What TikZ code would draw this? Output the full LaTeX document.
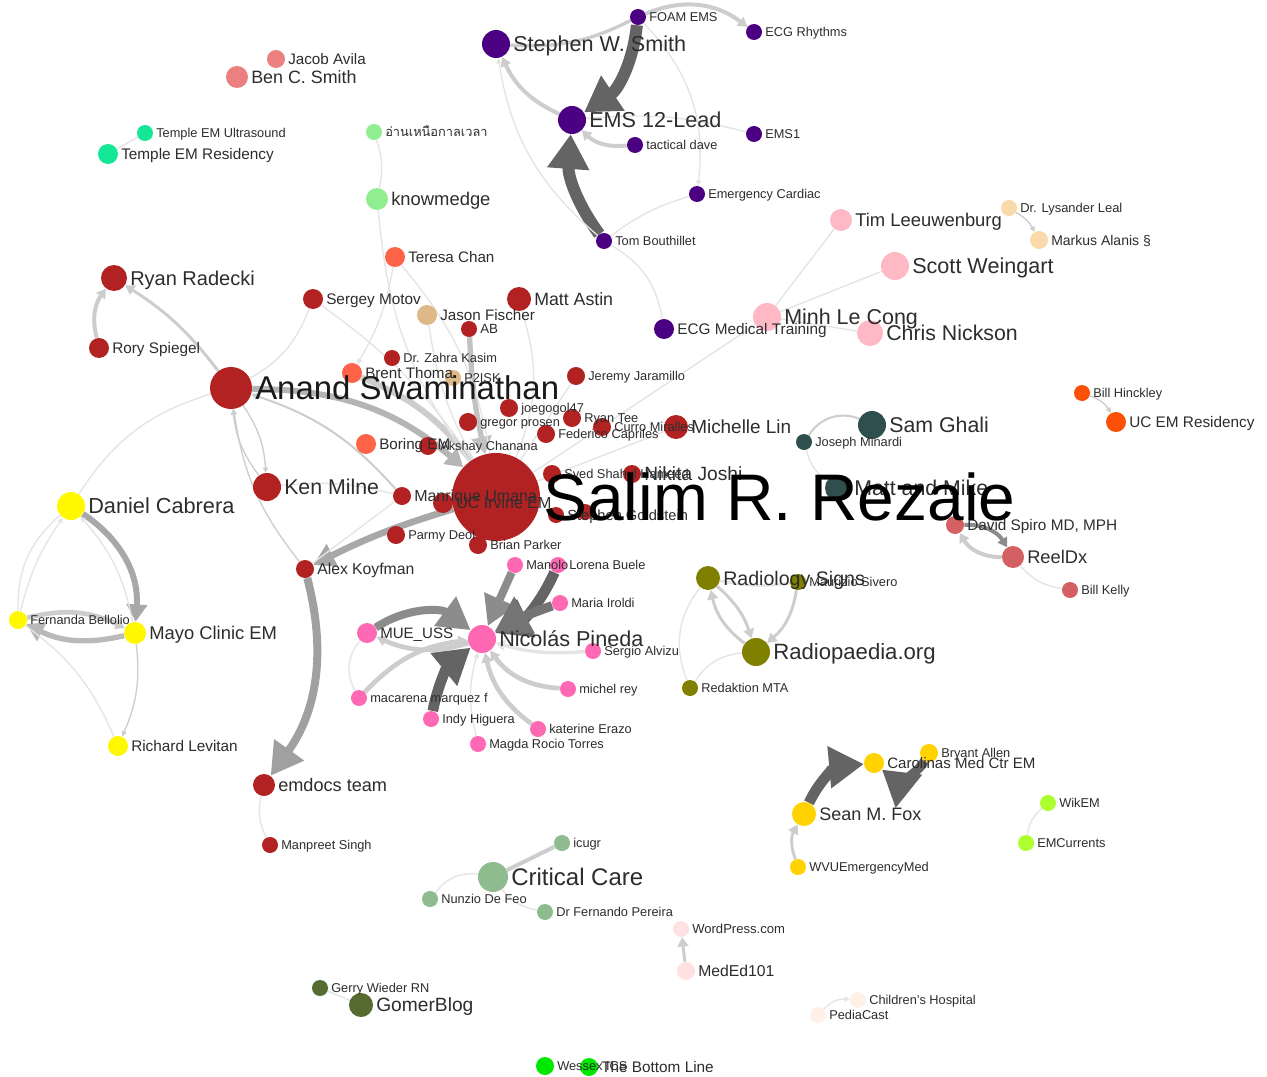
\documentclass[tikz,border=0pt]{standalone}
\usepackage{fontspec}
\setmainfont{Liberation Sans}
\newfontfamily\thaifont[Script=Thai]{Loma}
\usetikzlibrary{arrows.meta}
\pgfdeclarelayer{bg}\pgfdeclarelayer{edges}\pgfdeclarelayer{labels}
\pgfsetlayers{bg,edges,main,labels}
\definecolor{cpur}{RGB}{75,0,130}
\definecolor{csal}{RGB}{236,128,128}
\definecolor{ctem}{RGB}{20,232,150}
\definecolor{clgr}{RGB}{144,238,144}
\definecolor{cpnk}{RGB}{255,185,196}
\definecolor{cnav}{RGB}{250,218,170}
\definecolor{corr}{RGB}{252,80,8}
\definecolor{cslt}{RGB}{47,79,79}
\definecolor{cird}{RGB}{212,96,100}
\definecolor{colv}{RGB}{128,128,0}
\definecolor{chot}{RGB}{255,105,180}
\definecolor{cyel}{RGB}{255,248,0}
\definecolor{cgld}{RGB}{255,210,0}
\definecolor{cgy}{RGB}{173,255,47}
\definecolor{cdsg}{RGB}{143,188,143}
\definecolor{cmis}{RGB}{255,225,225}
\definecolor{csea}{RGB}{255,240,232}
\definecolor{cdog}{RGB}{85,107,47}
\definecolor{clim}{RGB}{0,232,0}
\definecolor{cred}{RGB}{178,34,34}
\definecolor{ctom}{RGB}{255,99,71}
\definecolor{cbur}{RGB}{222,184,135}
\definecolor{labc}{RGB}{45,45,45}
\definecolor{ea}{RGB}{228,228,228}
\definecolor{eb}{RGB}{205,205,205}
\definecolor{ec}{RGB}{168,168,168}
\definecolor{ee}{RGB}{140,140,140}
\definecolor{ed}{RGB}{100,100,100}
\tikzset{
  gnd/.style={circle,inner sep=0pt,draw=none},
  glab/.style={anchor=base west,inner sep=0pt,text=labc},
  ethin/.style={draw=ea,line width=1pt},
  ethinA/.style={draw=ea,line width=1pt,-{Triangle[width=4pt,length=4pt]}},
  elight/.style={draw=eb,line width=2.2pt,-{Triangle[width=8pt,length=7pt]}},
  emedium/.style={draw=ec,line width=4.5pt,-{Triangle[width=15pt,length=13pt]}},
  edark/.style={draw=ed,line width=9pt,-{Triangle[width=30pt,length=26pt]}},
}
\newcommand\gn[7]{%
  \node[gnd,fill=#5,minimum size={1.5pt*#4}] (#1) at (#2,#3) {};
  \begin{pgfonlayer}{labels}
  \node[glab,font=\fontsize{#6pt}{#6pt}\selectfont] (#1-l) at ({#2+#4+3},{#3+0.48*#6}) {#7};
  \end{pgfonlayer}}
\begin{document}
\begin{tikzpicture}[x=0.75pt,y=-0.75pt]
\begin{pgfonlayer}{bg}
\fill[white] (0,0) rectangle (1267,1077);
\end{pgfonlayer}
\useasboundingbox (0,0) rectangle (1267,1077);
% purple
\gn{steph}{496}{44}{14}{cpur}{16.2}{Stephen W. Smith}
\gn{foam}{638}{17}{8}{cpur}{9.6}{FOAM EMS}
\gn{ecgr}{754}{32}{8}{cpur}{9.6}{ECG Rhythms}
\gn{ems12}{572}{120}{14}{cpur}{16.2}{EMS 12-Lead}
\gn{ems1}{754}{134}{8}{cpur}{9.6}{EMS1}
\gn{tdave}{635}{145}{8}{cpur}{9.6}{tactical dave}
\gn{ecard}{697}{194}{8}{cpur}{9.6}{Emergency Cardiac}
\gn{tomb}{604}{241}{8}{cpur}{9.6}{Tom Bouthillet}
\gn{ecgmt}{664}{329}{10}{cpur}{11.5}{ECG Medical Training}
% top left
\gn{jacob}{276}{59}{9}{csal}{11.4}{Jacob Avila}
\gn{ben}{237}{77}{11}{csal}{13.4}{Ben C. Smith}
\gn{tus}{145}{133}{8}{ctem}{9.6}{Temple EM Ultrasound}
\gn{tres}{108}{154}{10}{ctem}{11.5}{Temple EM Residency}
\gn{thai}{374}{132}{8}{clgr}{9.6}{\thaifont อ่านเหนือกาลเวลา}
\gn{know}{377}{199}{11}{clgr}{13.8}{knowmedge}
% pink
\gn{tim}{841}{220}{11}{cpnk}{13.8}{Tim Leeuwenburg}
\gn{scott}{895}{266}{14}{cpnk}{16.2}{Scott Weingart}
\gn{minh}{767}{317}{14}{cpnk}{16.1}{Minh Le Cong}
\gn{chris}{870}{333}{13}{cpnk}{16}{Chris Nickson}
\gn{lys}{1009}{208}{8}{cnav}{9.7}{Dr. Lysander Leal}
\gn{markus}{1039}{240}{9}{cnav}{10.5}{Markus Alanis §}
\gn{hinck}{1082}{393}{8}{corr}{9.6}{Bill Hinckley}
\gn{ucem}{1116}{422}{10}{corr}{11.5}{UC EM Residency}
% slate
\gn{ghali}{872}{425}{14}{cslt}{16}{Sam Ghali}
\gn{minardi}{804}{442}{8}{cslt}{9.6}{Joseph Minardi}
\gn{mattmike}{838}{488}{13}{cslt}{16}{Matt and Mike}
% indian red
\gn{spiro}{955}{525}{9}{cird}{11.5}{David Spiro MD, MPH}
\gn{reeldx}{1013}{557}{11}{cird}{13.7}{ReelDx}
\gn{kelly}{1070}{590}{8}{cird}{9.6}{Bill Kelly}
% olive
\gn{radsig}{708}{578}{12}{colv}{14.7}{Radiology Signs}
\gn{sivero}{798}{582}{8}{colv}{9.6}{Maurizio Sivero}
\gn{radio}{756}{652}{14}{colv}{16.6}{Radiopaedia.org}
\gn{redak}{690}{688}{8}{colv}{9.6}{Redaktion MTA}
% hot pink
\gn{nicolas}{482}{639}{14}{chot}{16.2}{Nicolás Pineda}
\gn{mue}{367}{633}{10}{chot}{11.3}{MUE\_USS}
\gn{manolo}{515}{565}{8}{chot}{9.6}{Manolo}
\gn{lorena}{558}{565}{8}{chot}{9.6}{Lorena Buele}
\gn{maria}{560}{603}{8}{chot}{9.6}{Maria Iroldi}
\gn{sergio}{593}{651}{8}{chot}{9.6}{Sergio Alvizu}
\gn{michel}{568}{689}{8}{chot}{9.6}{michel rey}
\gn{katerine}{538}{729}{8}{chot}{9.6}{katerine Erazo}
\gn{magda}{478}{744}{8}{chot}{9.6}{Magda Rocio Torres}
\gn{indy}{431}{719}{8}{chot}{9.6}{Indy Higuera}
\gn{macarena}{359}{698}{8}{chot}{9.6}{macarena marquez f}
% yellow
\gn{daniel}{71}{506}{14}{cyel}{16.3}{Daniel Cabrera}
\gn{fern}{18}{620}{9}{cyel}{9.6}{Fernanda Bellolio}
\gn{mayo}{135}{633}{11}{cyel}{13.8}{Mayo Clinic EM}
\gn{rich}{118}{746}{10}{cyel}{11.5}{Richard Levitan}
% gold
\gn{fox}{804}{814}{12}{cgld}{13.5}{Sean M. Fox}
\gn{carol}{874}{763}{10}{cgld}{11.3}{Carolinas Med Ctr EM}
\gn{bryant}{929}{753}{9}{cgld}{9.6}{Bryant Allen}
\gn{wvu}{798}{867}{8}{cgld}{9.6}{WVUEmergencyMed}
% green yellow
\gn{wikem}{1048}{803}{8}{cgy}{9.6}{WikEM}
\gn{emcur}{1026}{843}{8}{cgy}{9.6}{EMCurrents}
% dark sea green
\gn{ccare}{493}{877}{15}{cdsg}{18}{Critical Care}
\gn{icugr}{562}{843}{8}{cdsg}{9.6}{icugr}
\gn{nunzio}{430}{899}{8}{cdsg}{9.6}{Nunzio De Feo}
\gn{pereira}{545}{912}{8}{cdsg}{9.6}{Dr Fernando Pereira}
% misty
\gn{wp}{681}{929}{8}{cmis}{9.8}{WordPress.com}
\gn{meded}{686}{971}{9}{cmis}{11.8}{MedEd101}
\gn{child}{858}{1000}{8}{csea}{9.6}{Children’s Hospital}
\gn{pedia}{818}{1015}{8}{csea}{9.6}{PediaCast}
% dark olive
\gn{gerry}{320}{988}{8}{cdog}{9.6}{Gerry Wieder RN}
\gn{gomer}{361}{1005}{12}{cdog}{14.4}{GomerBlog}
% lime
\gn{wessex}{545}{1066}{9}{clim}{9.6}{Wessex ICS}
\gn{bottom}{589}{1067}{9}{clim}{11.5}{The Bottom Line}
% red
\gn{anand}{231}{388}{21}{cred}{24.7}{\color[RGB]{25,25,25}Anand Swaminathan}
\gn{ryan}{114}{278}{13}{cred}{15}{Ryan Radecki}
\gn{rory}{99}{348}{10}{cred}{11.5}{Rory Spiegel}
\gn{sergey}{313}{299}{10}{cred}{11.5}{Sergey Motov}
\gn{teresa}{395}{257}{10}{ctom}{11.4}{Teresa Chan}
\gn{jason}{427}{315}{10}{cbur}{11.4}{Jason Fischer}
\gn{matt}{519}{299}{12}{cred}{13.3}{Matt Astin}
\gn{ab}{469}{329}{8}{cred}{10}{AB}
\gn{zahra}{392}{358}{8}{cred}{9.6}{Dr. Zahra Kasim}
\gn{brent}{352}{373}{10}{ctom}{11.4}{Brent Thoma}
\gn{p2isk}{453}{378}{8}{cbur}{9.6}{P2ISK}
\gn{jeremy}{576}{376}{9}{cred}{9.6}{Jeremy Jaramillo}
\gn{joe}{509}{408}{9}{cred}{9.6}{joegogol47}
\gn{gregor}{468}{422}{9}{cred}{9.6}{gregor prosen}
\gn{ryantee}{572}{418}{9}{cred}{9.6}{Ryan Tee}
\gn{federico}{546}{434}{9}{cred}{9.6}{Federico Capriles}
\gn{curro}{602}{427}{9}{cred}{9.6}{Curro Miralles}
\gn{michelle}{676}{427}{12}{cred}{14.2}{Michelle Lin}
\gn{boring}{366}{444}{10}{ctom}{11.4}{Boring EM}
\gn{akshay}{428}{446}{9}{cred}{9.6}{Akshay Chanana}
\gn{syed}{552}{474}{9}{cred}{9.6}{Syed Shahul Hameed}
\gn{nikita}{632}{474}{9}{cred}{14.4}{Nikita Joshi}
\gn{ken}{267}{487}{14}{cred}{16}{Ken Milne}
\gn{manrique}{402}{496}{9}{cred}{12}{Manrique Umana}
\gn{ucirvine}{443}{503}{10}{cred}{12}{UC Irvine EM}
\gn{parmy}{396}{535}{9}{cred}{9.6}{Parmy Deol}
\gn{brian}{478}{545}{9}{cred}{9.6}{Brian Parker}
\gn{alex}{305}{569}{9}{cred}{11.8}{Alex Koyfman}
\gn{emdocs}{264}{785}{11}{cred}{13.6}{emdocs team}
\gn{manpreet}{270}{845}{8}{cred}{9.6}{Manpreet Singh}
\gn{steg}{556}{515}{8}{cred}{11}{Stephen Goldstein}
\node[gnd,fill=cred,minimum size=12pt] (hid) at (585,512) {};
\gn{salim}{496}{497}{44}{cred}{49.4}{\color{black}Salim R. Rezaie}

\begin{pgfonlayer}{edges}
% purple
\draw[edark] (foam) to[bend left=25] (ems12);
\draw[edark] (tomb) to[bend left=20] (ems12);
\draw[elight,line width=3pt] (foam) to[bend left=30] (ecgr);
\draw[elight,line width=3pt] (ems12) to[bend left=20] (steph);
\draw[elight,line width=3pt] (tdave) to[bend left=25] (ems12);
\draw[draw=eb,line width=2.5pt] (steph) to[bend right=15] (foam);
\draw[ethinA] (tomb) to[bend left=20] (steph);
\draw[ethinA] (foam) to[bend left=25] (ecard);
\draw[ethin] (ems12) to[bend left=10] (ems1);
\draw[ethin] (tomb) to[bend left=10] (ecard);
\draw[ethin] (tomb) to[bend left=25] (ecgmt);
% pink
\draw[ethin] (minh) -- (tim);
\draw[ethin] (minh) -- (scott);
\draw[ethin] (minh) -- (chris);
\draw[ethin] (minh) -- (salim);
\draw[ethinA,draw=eb] (lys) to[bend left=15] (markus);
\draw[ethinA,draw=eb] (hinck) to[bend left=20] (ucem);
% slate
\draw[draw=eb,line width=1.5pt] (ghali) to[bend right=40] (minardi);
\draw[ethin] (minardi) to[bend right=20] (mattmike);
% indian red
\draw[elight,draw=ee,line width=3pt] (spiro) to[bend left=30] (reeldx);
\draw[elight,line width=3pt] (reeldx) to[bend left=30] (spiro);
\draw[ethin] (reeldx) to[bend right=20] (kelly);
% olive
\draw[elight] (radsig) to[bend left=15] (radio);
\draw[elight] (radio) to[bend left=20] (radsig);
\draw[elight] (sivero) to[bend left=20] (radio);
\draw[draw=ea,line width=2pt] (radsig) to[bend right=10] (sivero);
\draw[ethin] (redak) to[bend left=25] (radio);
\draw[ethin] (redak) to[bend left=30] (radsig);
% hot pink
\draw[edark,draw=ee,line width=6pt,-{Triangle[width=24pt,length=22pt]}] (manolo) -- (nicolas);
\draw[edark,line width=8pt] (lorena) to[bend left=20] (nicolas);
\draw[edark,draw=ed!90!white,line width=7pt] (maria) to[bend right=5] (nicolas);
\draw[edark,draw=ee,line width=6pt,-{Triangle[width=26pt,length=24pt]}] (mue) to[bend left=35] (nicolas);
\draw[elight,line width=3.5pt] (nicolas) to[bend left=20] (mue);
\draw[edark,line width=8pt] (indy) to[bend left=20] (nicolas);
\draw[elight,line width=3.5pt] (macarena) to[bend left=20] (nicolas);
\draw[ethin] (macarena) to[bend left=35] (mue);
\draw[elight,line width=3.5pt] (michel) to[bend left=25] (nicolas);
\draw[elight,line width=3.5pt] (katerine) to[bend left=20] (nicolas);
\draw[elight,draw=ea,line width=2.5pt] (sergio) to[bend left=10] (nicolas);
\draw[ethinA] (magda) to[bend left=15] (nicolas);
% yellow
\draw[emedium] (daniel) to[bend left=30] (mayo);
\draw[emedium,draw=ec!80!white,line width=4pt] (mayo) to[bend left=20] (fern);
\draw[elight,line width=3.5pt] (fern) to[bend left=20] (mayo);
\draw[ethinA] (fern) to[bend left=10] (daniel);
\draw[ethinA] (mayo) to[bend right=15] (daniel);
\draw[ethinA,draw=eb] (mayo) to[bend left=15] (rich);
\draw[ethin] (fern) to[bend left=15] (rich);
\draw[ethin] (daniel) to[bend right=25] (fern);
\draw[ethin] (daniel) to[bend left=20] (anand);
% red
\draw[elight,line width=3pt] (rory) to[bend left=25] (ryan);
\draw[elight] (anand) to[bend right=10] (ryan);
\draw[ethin] (sergey) to[bend left=20] (anand);
\draw[ethinA,draw=eb] (anand) to[bend left=15] (ken);
\draw[ethinA,draw=eb] (ken) to[bend left=15] (anand);
\draw[ethinA,draw=eb] (alex) to[bend left=15] (anand);
\draw[ethinA,draw=eb,line width=1.5pt] (manrique) to[bend right=15] (anand);
\draw[emedium,draw=ec!85!white] (anand) to[bend left=20] (salim);
\draw[ethinA] (teresa) to[bend left=10] (brent);
\draw[draw=eb,line width=4.5pt] (brent) to[bend left=15] (salim);
\draw[emedium,draw=ec!70!white,line width=4pt] (ab) to[bend right=5] (salim);
\draw[ethin] (matt) to[bend left=20] (salim);
\draw[ethin] (jeremy) -- (salim);
\draw[ethin] (teresa) to[bend left=15] (salim);
\draw[ethin] (jason) to[bend right=10] (salim);
\draw[ethin] (sergey) to[bend left=10] (salim);
\draw[ethin] (michelle) -- (salim);
\draw[ethin] (know) to[bend right=15] (salim);
\draw[emedium,line width=5pt,-{Triangle[width=18pt,length=16pt]}] (salim) to[bend right=5] (alex);
\draw[emedium,draw=ec!95!black,line width=6pt,-{Triangle[width=26pt,length=24pt]}] (alex) to[bend left=25] (emdocs);
\draw[ethin] (alex) -- (manrique);
\draw[ethin] (ken) to[bend left=10] (manrique);
\draw[ethin] (emdocs) to[bend right=20] (manpreet);
% gold
\draw[edark,line width=8pt] (fox) to[bend left=30] (carol);
\draw[edark,line width=7pt] (bryant) to[bend left=50] (carol);
\draw[elight] (wvu) to[bend left=25] (fox);
% others
\draw[ethin] (wikem) to[bend right=20] (emcur);
\draw[draw=eb,line width=3pt] (icugr) -- (ccare);
\draw[ethin] (ccare) to[bend right=30] (nunzio);
\draw[ethin] (ccare) to[bend right=20] (pereira);
\draw[elight] (meded) -- (wp);
\draw[ethinA] (pedia) to[bend left=25] (child);
\draw[ethin] (gerry) -- (gomer);
\draw[ethin] (tus) -- (tres);
\draw[ethin] (thai) to[bend left=15] (know);
\end{pgfonlayer}
\end{tikzpicture}
\end{document}
